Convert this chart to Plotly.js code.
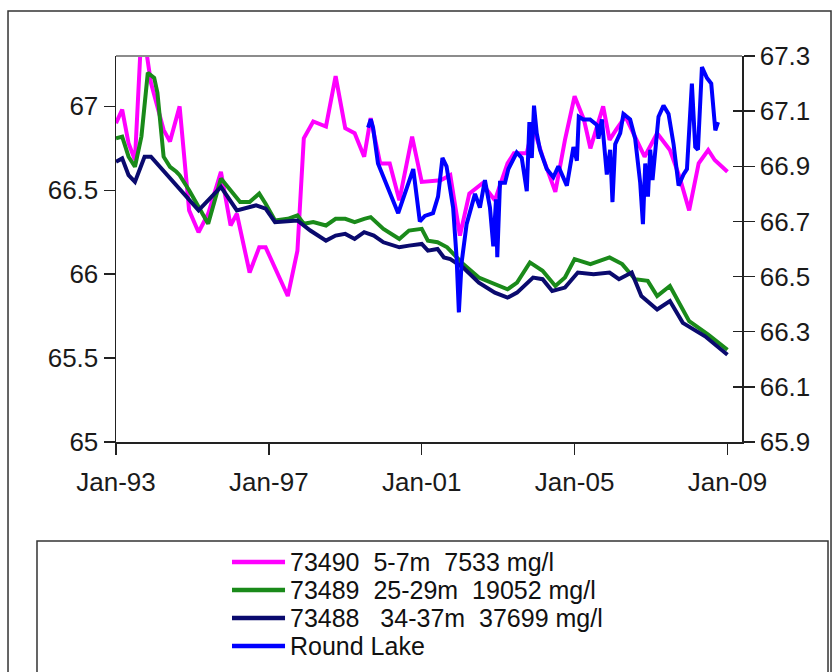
<!DOCTYPE html>
<html>
<head>
<meta charset="utf-8">
<script src="https://cdn.plot.ly/plotly-3.0.1.min.js"></script>
<style>html,body{margin:0;padding:0;background:#fff;}#chart{width:835px;height:672px;}</style>
</head>
<body>
<div id="chart"></div>
<script>
// ---- data ----
const names = [
  "73490\u00A0\u00A05-7m\u00A0\u00A07533 mg/l",
  "73489\u00A0\u00A025-29m\u00A0\u00A019052 mg/l",
  "73488\u00A0\u00A0\u00A034-37m\u00A0\u00A037699 mg/l",
  "Round Lake"
];

const dates73490 = ['1993-01-01','1993-03-01','1993-05-01','1993-07-01','1993-09-01','1993-10-01','1993-12-01','1994-04-01','1994-06-01','1994-09-01','1994-12-01','1995-03-01','1995-06-01','1995-10-01','1996-01-01','1996-03-01','1996-07-01','1996-10-01','1996-12-01','1997-07-01','1997-10-01','1997-12-01','1998-03-01','1998-07-01','1998-10-01','1999-01-01','1999-04-01','1999-07-01','1999-09-01','1999-12-01','2000-03-01','2000-06-01','2000-10-01','2001-01-01','2001-07-01','2001-10-01','2002-01-01','2002-04-01','2002-08-01','2002-12-01','2003-04-01','2003-06-01','2003-10-01','2003-12-01','2004-03-01','2004-07-01','2004-10-01','2005-01-01','2005-04-01','2005-06-01','2005-10-01','2005-12-01','2006-02-01','2006-05-01','2006-08-01','2006-11-01','2007-03-01','2007-07-01','2007-10-01','2008-01-01','2008-04-01','2008-07-01','2008-09-01','2009-01-01'];
const level73490 = [66.90,66.98,66.78,66.68,67.45,67.40,67.14,66.86,66.79,67.00,66.38,66.25,66.36,66.61,66.29,66.36,66.01,66.16,66.16,65.87,66.14,66.81,66.91,66.88,67.18,66.87,66.84,66.70,66.93,66.66,66.66,66.44,66.82,66.55,66.56,66.59,66.23,66.48,66.54,66.44,66.66,66.72,66.72,66.88,66.70,66.49,66.80,67.06,66.92,66.75,67.00,66.80,66.86,66.94,66.82,66.70,66.84,66.74,66.58,66.38,66.66,66.74,66.68,66.61];

const dates73489 = ['1993-01-01','1993-03-01','1993-05-01','1993-07-01','1993-09-01','1993-11-01','1994-01-01','1994-02-01','1994-04-01','1994-06-01','1994-08-01','1994-09-01','1994-12-01','1995-03-01','1995-06-01','1995-10-01','1995-12-01','1996-04-01','1996-07-01','1996-10-01','1996-12-01','1997-03-01','1997-07-01','1997-10-01','1997-12-01','1998-03-01','1998-07-01','1998-10-01','1999-01-01','1999-04-01','1999-07-01','1999-09-01','2000-01-01','2000-06-01','2000-09-01','2001-01-01','2001-03-01','2001-06-01','2001-09-01','2002-02-01','2002-07-01','2002-12-01','2003-04-01','2003-07-01','2003-11-01','2004-03-01','2004-07-01','2004-10-01','2005-01-01','2005-06-01','2005-12-01','2006-04-01','2006-08-01','2006-12-01','2007-03-01','2007-07-01','2008-01-01','2008-07-01','2009-01-01'];
const level73489 = [66.81,66.82,66.70,66.64,66.82,67.20,67.17,67.08,66.70,66.64,66.61,66.59,66.50,66.40,66.30,66.57,66.52,66.43,66.43,66.48,66.42,66.32,66.33,66.35,66.30,66.31,66.29,66.33,66.33,66.31,66.33,66.34,66.27,66.21,66.26,66.27,66.20,66.19,66.16,66.06,65.98,65.94,65.91,65.95,66.07,66.02,65.93,65.98,66.09,66.06,66.10,66.06,65.97,65.96,65.87,65.93,65.72,65.64,65.55];

const dates73488 = ['1993-01-01','1993-03-01','1993-05-01','1993-07-01','1993-10-01','1993-12-01','1995-03-01','1995-10-01','1996-03-01','1996-09-01','1996-12-01','1997-03-01','1997-10-01','1998-02-01','1998-07-01','1998-10-01','1999-01-01','1999-04-01','1999-07-01','1999-10-01','2000-01-01','2000-06-01','2000-09-01','2001-01-01','2001-03-01','2001-06-01','2001-08-01','2001-10-01','2002-02-01','2002-07-01','2002-12-01','2003-04-01','2003-07-01','2003-12-01','2004-03-01','2004-06-01','2004-10-01','2005-02-01','2005-07-01','2005-12-01','2006-03-01','2006-07-01','2006-10-01','2007-03-01','2007-07-01','2007-11-01','2008-06-01','2009-01-01'];
const level73488 = [66.67,66.69,66.59,66.55,66.70,66.70,66.38,66.52,66.38,66.41,66.39,66.31,66.32,66.26,66.20,66.23,66.24,66.21,66.25,66.23,66.19,66.16,66.17,66.18,66.14,66.15,66.10,66.09,66.04,65.95,65.89,65.86,65.89,65.98,65.97,65.90,65.92,66.01,66.00,66.01,65.97,66.01,65.87,65.79,65.84,65.71,65.63,65.52];

const datesLake = ['1999-08-07','1999-09-02','1999-09-24','1999-11-10','2000-05-21','2000-10-12','2000-12-14','2001-01-31','2001-04-19','2001-06-06','2001-07-18','2001-08-26','2001-10-28','2001-11-30','2001-12-22','2002-01-17','2002-03-06','2002-04-23','2002-05-25','2002-07-11','2002-08-28','2002-10-15','2002-11-16','2002-12-12','2002-12-24','2003-01-19','2003-03-08','2003-04-09','2003-06-28','2003-08-15','2003-10-02','2003-10-27','2003-11-19','2003-12-10','2004-01-05','2004-02-05','2004-04-10','2004-06-12','2004-07-30','2004-10-19','2004-12-21','2005-01-23','2005-02-10','2005-03-26','2005-05-29','2005-08-02','2005-08-17','2005-09-19','2005-11-05','2005-12-07','2005-12-29','2006-01-24','2006-03-13','2006-04-13','2006-05-16','2006-06-16','2006-08-03','2006-09-20','2006-10-16','2006-11-07','2006-12-03','2006-12-25','2007-01-16','2007-02-11','2007-03-14','2007-05-01','2007-06-18','2007-08-05','2007-09-22','2007-11-08','2007-12-11','2008-01-27','2008-02-28','2008-03-25','2008-05-02','2008-06-19','2008-07-30','2008-09-07','2008-10-03'];
const levelLake = [67.04,67.07,67.04,66.91,66.73,66.89,66.70,66.72,66.73,66.79,66.93,66.90,66.75,66.57,66.37,66.55,66.69,66.75,66.80,66.75,66.85,66.75,66.61,66.78,66.57,66.84,66.84,66.89,66.95,66.93,66.81,67.06,66.93,67.12,67.02,66.96,66.89,66.86,66.90,66.83,66.97,66.92,67.08,67.07,67.07,67.05,67.00,67.07,66.87,66.96,66.77,66.98,67.02,67.09,67.08,67.07,67.00,66.84,66.69,66.91,66.79,66.96,66.85,66.97,67.08,67.12,67.09,66.98,66.83,66.87,66.89,67.20,66.97,66.96,67.26,67.22,67.20,67.03,67.06];

const xTickVals = ['1993-01-01','1997-01-01','2001-01-01','2005-01-01','2009-01-01'];
const xTickText = ['Jan-93','Jan-97','Jan-01','Jan-05','Jan-09'];
const yLeftTicks = [65, 65.5, 66, 66.5, 67];
const yRightTicks = [65.9, 66.1, 66.3, 66.5, 66.7, 66.9, 67.1, 67.3];
const yRightText = ['65.9','66.1','66.3','66.5','66.7','66.9','67.1','67.3'];

const colors = ['#ff00ff', '#1a8a1a', '#0a0a6e', '#0000ff'];
const FONT = 'Liberation Sans, Arial, sans-serif';
const LW = 4;

const traces = [
  {x: dates73490, y: level73490, name: names[0], type: 'scatter', mode: 'lines', line: {color: colors[0], width: LW}, yaxis: 'y'},
  {x: dates73489, y: level73489, name: names[1], type: 'scatter', mode: 'lines', line: {color: colors[1], width: LW}, yaxis: 'y'},
  {x: dates73488, y: level73488, name: names[2], type: 'scatter', mode: 'lines', line: {color: colors[2], width: LW}, yaxis: 'y'},
  {x: datesLake, y: levelLake, name: names[3], type: 'scatter', mode: 'lines', line: {color: colors[3], width: LW}, yaxis: 'y2'},
  {x: [], y: [], showlegend: false, hoverinfo: 'skip', type: 'scatter', mode: 'lines', yaxis: 'y3'}
];

const axisFont = {family: FONT, size: 26, color: '#1a1a1a'};

// Legend drawn as a framed key below the chart (paper coordinates)
const legendRowsY = [-0.3109, -0.3834, -0.4560, -0.5285];
const legendLineX = [0.1853, 0.2700];
const legendTextX = 0.2748;
const legendShapes = colors.map((c, i) => ({
  type: 'line', xref: 'paper', yref: 'paper',
  x0: legendLineX[0], x1: legendLineX[1], y0: legendRowsY[i], y1: legendRowsY[i],
  line: {color: c, width: 4.5}
}));
const legendText = names.map((n, i) => ({
  xref: 'paper', yref: 'paper', x: legendTextX, y: legendRowsY[i],
  xanchor: 'left', yanchor: 'middle', showarrow: false, text: n,
  font: {family: FONT, size: 25, color: '#111'}
}));

const layout = {
  width: 835, height: 672,
  margin: {l: 116, r: 93, t: 56, b: 230, pad: 0, autoexpand: false},
  paper_bgcolor: '#ffffff', plot_bgcolor: '#ffffff',
  font: {family: FONT, color: '#1a1a1a'},
  showlegend: false,
  xaxis: {
    type: 'date', range: ['1993-01-01', '2009-05-20'],
    tickvals: xTickVals, ticktext: xTickText,
    ticks: 'outside', ticklen: 11, tickwidth: 1.5, tickcolor: '#222',
    showline: true, linecolor: '#222', linewidth: 1.5, ticklabelstandoff: 5,
    showgrid: false, zeroline: false, tickfont: axisFont, fixedrange: true
  },
  yaxis: {
    range: [65, 67.3], tickvals: yLeftTicks,
    ticks: 'outside', ticklen: 11, tickwidth: 1.5, tickcolor: '#222',
    showline: true, linecolor: '#222', linewidth: 1.5,
    showgrid: false, zeroline: false, tickfont: axisFont
  },
  yaxis2: {
    overlaying: 'y', side: 'right', anchor: 'x',
    range: [65.9, 67.3], tickvals: yRightTicks, ticktext: yRightText,
    ticks: 'outside', ticklen: 11, tickwidth: 1.5, tickcolor: '#222',
    showline: true, linecolor: '#222', linewidth: 1.5,
    showgrid: false, zeroline: false, tickfont: axisFont
  },
  yaxis3: {
    overlaying: 'y', side: 'right', anchor: 'x',
    range: [65.9, 67.3], tickvals: yRightTicks,
    ticks: 'inside', ticklen: 9, tickwidth: 1.5, tickcolor: '#222',
    showline: false, showticklabels: false,
    showgrid: false, zeroline: false
  },
  annotations: legendText,
  shapes: [
    {type: 'line', xref: 'paper', yref: 'paper', x0: 0, x1: 1, y0: 1, y1: 1, line: {color: '#8c8c8c', width: 2}},
    {type: 'rect', xref: 'paper', yref: 'paper', x0: -0.1725, x1: 1.1422, y0: -0.65, y1: 1.1166, line: {color: '#333', width: 1.5}, fillcolor: 'rgba(0,0,0,0)', layer: 'below'},
    {type: 'rect', xref: 'paper', yref: 'paper', x0: -0.1262, x1: 1.1374, y0: -0.7, y1: -0.2565, line: {color: '#333', width: 1.5}, fillcolor: 'rgba(0,0,0,0)', layer: 'below'}
  ].concat(legendShapes)
};

Plotly.newPlot('chart', traces, layout, {displayModeBar: false, staticPlot: true});
</script>
</body>
</html>
